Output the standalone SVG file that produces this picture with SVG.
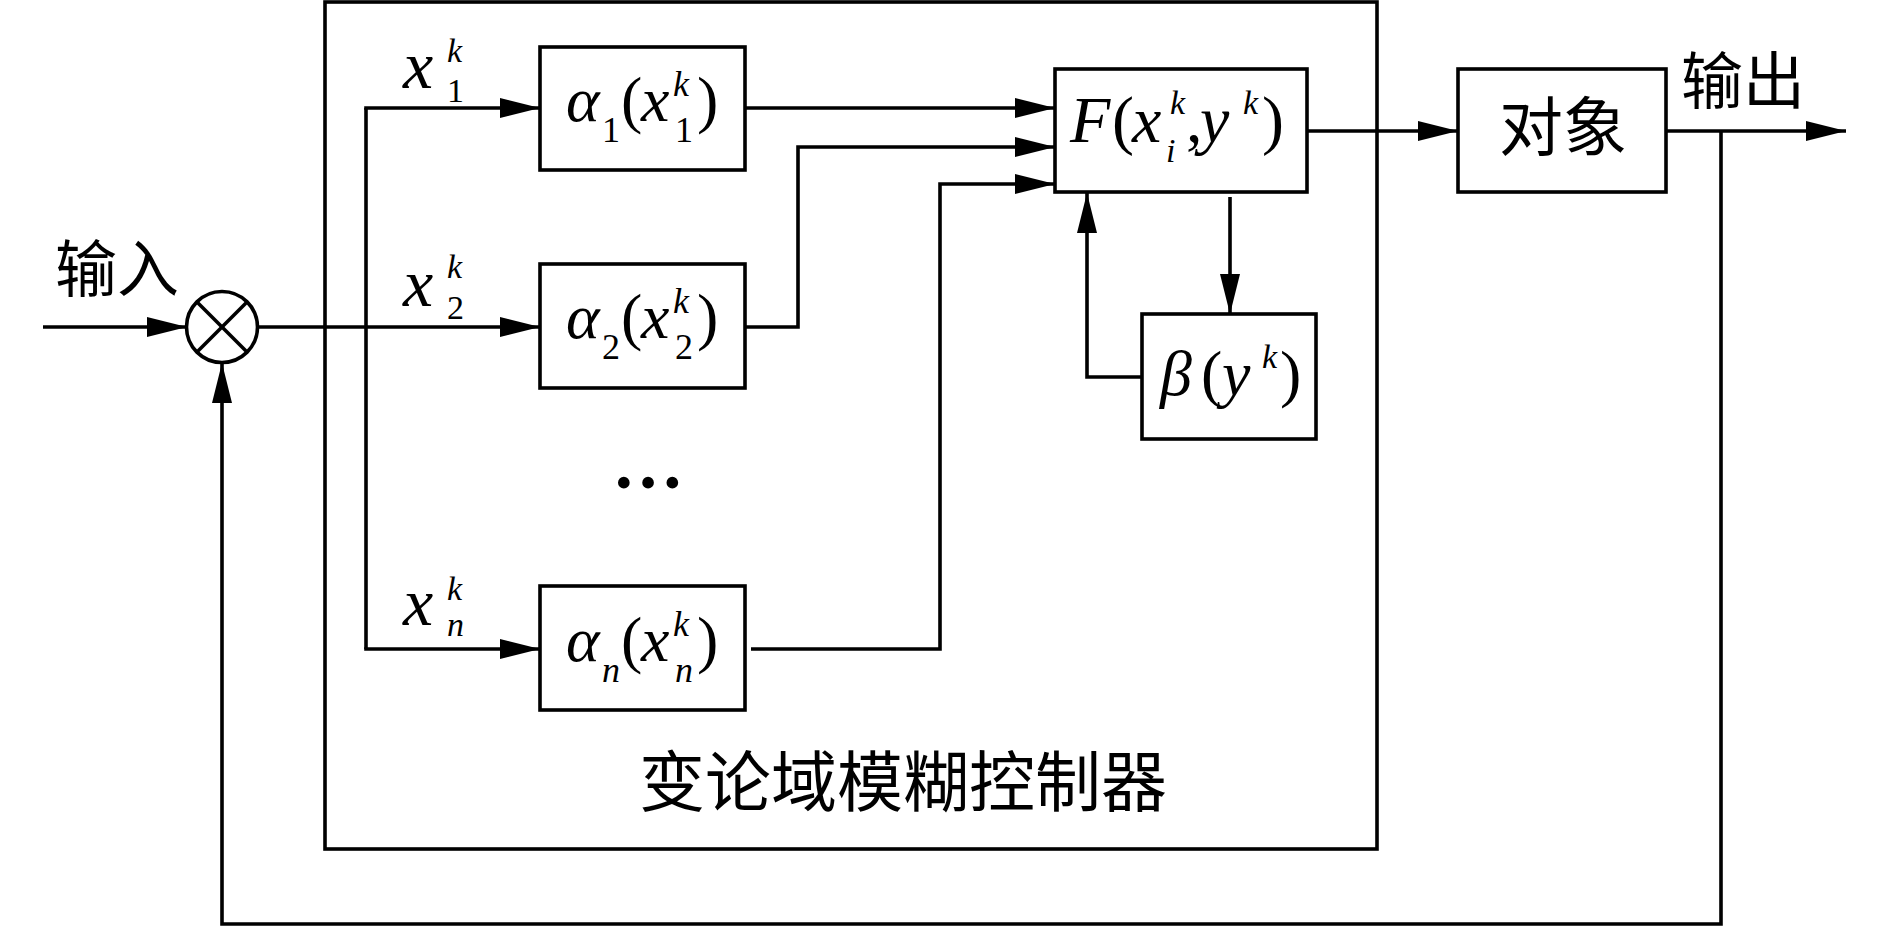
<svg xmlns="http://www.w3.org/2000/svg" width="1890" height="927" viewBox="0 0 1890 927">
<style>
.box{fill:none;stroke:#000;stroke-width:3.6}
.ln{fill:none;stroke:#000;stroke-width:3.6}
.m{font-family:"Liberation Serif","Times New Roman",serif;fill:#000}
.it{font-style:italic}
.cjk{font-family:"Noto Sans CJK SC","Noto Sans CJK JP",sans-serif;fill:#000}
</style>
<defs>
<marker id="ah" viewBox="0 0 40 20" refX="40" refY="10" markerWidth="40" markerHeight="20" markerUnits="userSpaceOnUse" orient="auto">
<path d="M0,0 L40,10 L0,20 Z" fill="#000"/>
</marker>
</defs>
<rect width="1890" height="927" fill="#fff"/>

<g id="controller">
<rect class="box" x="325" y="2" width="1052" height="847"/>
<text class="cjk" x="639" y="806" font-size="66">变论域模糊控制器</text>
</g>

<g id="sum">
<circle cx="222" cy="327" r="35.5" fill="none" stroke="#000" stroke-width="3.6"/>
<line class="ln" x1="197" y1="302" x2="247" y2="352"/>
<line class="ln" x1="247" y1="302" x2="197" y2="352"/>
</g>

<g id="alpha1">
<rect class="box" x="540" y="47" width="205" height="123"/>
<text class="m" font-size="64"><tspan class="it" x="566" y="121">α</tspan><tspan x="602" y="142" font-size="36">1</tspan><tspan x="621" y="121">(</tspan><tspan class="it" x="641" y="121">x</tspan><tspan class="it" x="673" y="96" font-size="36">k</tspan><tspan x="675" y="142" font-size="36">1</tspan><tspan x="697" y="121">)</tspan></text>
</g>

<g id="alpha2">
<rect class="box" x="540" y="264" width="205" height="124"/>
<text class="m" font-size="64"><tspan class="it" x="566" y="338">α</tspan><tspan x="602" y="359" font-size="36">2</tspan><tspan x="621" y="338">(</tspan><tspan class="it" x="641" y="338">x</tspan><tspan class="it" x="673" y="313" font-size="36">k</tspan><tspan x="675" y="359" font-size="36">2</tspan><tspan x="697" y="338">)</tspan></text>
</g>

<g id="alphan">
<rect class="box" x="540" y="586" width="205" height="124"/>
<text class="m" font-size="64"><tspan class="it" x="566" y="661">α</tspan><tspan class="it" x="602" y="682" font-size="36">n</tspan><tspan x="621" y="661">(</tspan><tspan class="it" x="641" y="661">x</tspan><tspan class="it" x="673" y="636" font-size="36">k</tspan><tspan class="it" x="675" y="682" font-size="36">n</tspan><tspan x="697" y="661">)</tspan></text>
</g>

<g id="dots">
<text class="m" x="648" y="488" font-size="72" font-weight="bold" text-anchor="middle">…</text>
</g>

<g id="F">
<rect class="box" x="1055" y="69" width="252" height="123"/>
<text class="m" font-size="66"><tspan class="it" x="1070" y="142">F</tspan><tspan x="1112" y="142">(</tspan><tspan class="it" x="1132" y="142">x</tspan><tspan class="it" x="1170" y="114" font-size="34">k</tspan><tspan class="it" x="1166" y="162" font-size="34">i</tspan><tspan x="1186" y="142">,</tspan><tspan class="it" x="1200" y="142">y</tspan><tspan class="it" x="1243" y="114" font-size="34">k</tspan><tspan x="1262" y="142">)</tspan></text>
</g>

<g id="beta">
<rect class="box" x="1142" y="314" width="174" height="125"/>
<text class="m" font-size="64"><tspan class="it" x="1160" y="395">β</tspan><tspan x="1201" y="395">(</tspan><tspan class="it" x="1222" y="395">y</tspan><tspan class="it" x="1262" y="368" font-size="34">k</tspan><tspan x="1280" y="395">)</tspan></text>
</g>

<g id="plant">
<rect class="box" x="1458" y="69" width="208" height="123"/>
<text class="cjk" x="1499" y="150" font-size="64">对象</text>
</g>

<g id="labels">
<text class="cjk" x="55" y="292" font-size="62">输入</text>
<text class="cjk" x="1681" y="104" font-size="62">输出</text>
<text class="m" font-size="68"><tspan class="it" x="403" y="88">x</tspan><tspan class="it" x="447" y="62" font-size="34">k</tspan><tspan x="447" y="102" font-size="34">1</tspan></text>
<text class="m" font-size="68"><tspan class="it" x="403" y="306">x</tspan><tspan class="it" x="447" y="278" font-size="34">k</tspan><tspan x="447" y="319" font-size="34">2</tspan></text>
<text class="m" font-size="68"><tspan class="it" x="403" y="625">x</tspan><tspan class="it" x="447" y="600" font-size="34">k</tspan><tspan class="it" x="447" y="636" font-size="34">n</tspan></text>
</g>

<g id="connectors">
<path class="ln" d="M43,327 H187" marker-end="url(#ah)"/>
<path class="ln" d="M258,327 H540" marker-end="url(#ah)"/>
<path class="ln" d="M366,108 V649"/>
<path class="ln" d="M364.2,108 H540" marker-end="url(#ah)"/>
<path class="ln" d="M364.2,649 H540" marker-end="url(#ah)"/>
<path class="ln" d="M745,108 H1055" marker-end="url(#ah)"/>
<path class="ln" d="M745,327 H798 V147 H1055" marker-end="url(#ah)"/>
<path class="ln" d="M751,649 H940 V184 H1055" marker-end="url(#ah)"/>
<path class="ln" d="M1307,131 H1458" marker-end="url(#ah)"/>
<path class="ln" d="M1666,131 H1846" marker-end="url(#ah)"/>
<path class="ln" d="M1721,131 V924 H222 V363" marker-end="url(#ah)"/>
<path class="ln" d="M1230,197 V314" marker-end="url(#ah)"/>
<path class="ln" d="M1142,377 H1087 V193" marker-end="url(#ah)"/>
</g>
</svg>
